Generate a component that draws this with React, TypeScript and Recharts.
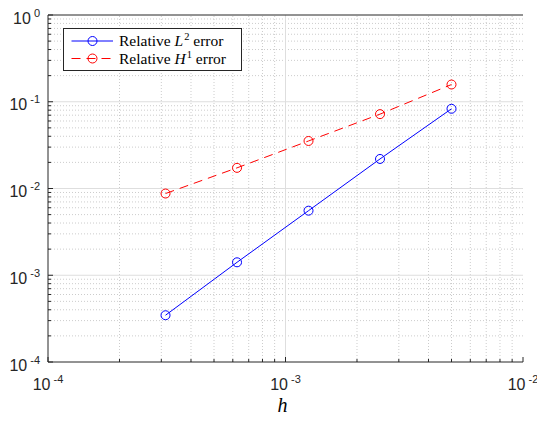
import React from 'react';
import {
  LineChart,
  Line,
  XAxis,
  YAxis,
  ReferenceLine,
  Legend,
  Label,
} from 'recharts';

// mesh size and relative errors
const H = [3.125e-4, 6.25e-4, 1.25e-3, 2.5e-3, 5e-3];
const L2_ERR = [3.46e-4, 1.41e-3, 5.55e-3, 2.19e-2, 8.3e-2];
const H1_ERR = [8.75e-3, 1.73e-2, 3.53e-2, 7.2e-2, 1.58e-1];

const X_DECADES = [1e-4, 1e-3, 1e-2];
const Y_DECADES = [1e-4, 1e-3, 1e-2, 1e-1, 1];

const MULT = [2, 3, 4, 5, 6, 7, 8, 9];

function minorsOf(decades: number[]): number[] {
  const out: number[] = [];
  for (const d of decades.slice(0, -1)) {
    for (const m of MULT) out.push(m * d);
  }
  return out;
}

const X_MINOR = minorsOf(X_DECADES);
const Y_MINOR = minorsOf(Y_DECADES);
const X_TICKS = [...X_DECADES, ...X_MINOR].sort((a, b) => a - b);
const Y_TICKS = [...Y_DECADES, ...Y_MINOR].sort((a, b) => a - b);

const data = H.map((h, i) => ({ h, l2: L2_ERR[i], h1: H1_ERR[i] }));

const SERIES_ORDER = ['l2', 'h1'];
const LEGEND_LABELS: Record<string, { sym: string; sup: string }> = {
  l2: { sym: 'L', sup: '2' },
  h1: { sym: 'H', sup: '1' },
};

const TICK_FONT = '"Liberation Sans", Arial, sans-serif';
const SERIF = '"Liberation Serif", "Times New Roman", serif';

function isDecade(v: number) {
  const l = Math.log10(v);
  return Math.abs(l - Math.round(l)) < 1e-9;
}

function PowLabel({ x, y, v, anchor }: { x: number; y: number; v: number; anchor: 'middle' | 'end' }) {
  return (
    <text x={x} y={y} textAnchor={anchor} style={{ fontFamily: TICK_FONT, fontSize: 16 }} fill="#262626">
      10
      <tspan dx={3} dy={-7} style={{ fontSize: 11 }}>
        {String(Math.round(Math.log10(v)))}
      </tspan>
    </text>
  );
}

function BottomTick(props: any) {
  const { x, y, payload } = props;
  const major = isDecade(payload.value);
  return (
    <g>
      <line x1={x} x2={x} y1={y} y2={y - (major ? 5 : 3)} stroke="#262626" />
      {major && <PowLabel x={x} y={y + 28} v={payload.value} anchor="middle" />}
    </g>
  );
}

function TopTick(props: any) {
  const { x, y, payload } = props;
  const major = isDecade(payload.value);
  return <line x1={x} x2={x} y1={y} y2={y + (major ? 5 : 3)} stroke="#262626" />;
}

function LeftTick(props: any) {
  const { x, y, payload } = props;
  const major = isDecade(payload.value);
  return (
    <g>
      <line x1={x} x2={x + (major ? 5 : 3)} y1={y} y2={y} stroke="#262626" />
      {major && <PowLabel x={x - 8} y={y + 8.5} v={payload.value} anchor="end" />}
    </g>
  );
}

function RightTick(props: any) {
  const { x, y, payload } = props;
  const major = isDecade(payload.value);
  return <line x1={x} x2={x - (major ? 5 : 3)} y1={y} y2={y} stroke="#262626" />;
}

function renderLegend(props: any) {
  const items = ((props.payload || []) as any[])
    .slice()
    .sort((a, b) => SERIES_ORDER.indexOf(String(a.dataKey)) - SERIES_ORDER.indexOf(String(b.dataKey)));
  return (
    <svg width={180} height={44} style={{ display: 'block' }}>
      <rect x={0.5} y={0.5} width={178} height={42} fill="#fff" stroke="#262626" />
      {items.map((it, i) => {
        const cy = 13 + i * 17.5;
        const lab = LEGEND_LABELS[String(it.dataKey)];
        const dash = it.payload?.strokeDasharray;
        return (
          <g key={String(it.dataKey)}>
            <line x1={8.5} x2={50} y1={cy} y2={cy} stroke={it.color} strokeDasharray={dash} />
            <circle cx={29.5} cy={cy} r={4.5} fill="none" stroke={it.color} />
            <text x={56} y={cy + 5} style={{ fontFamily: SERIF, fontSize: 15.5 }} fill="#000">
              Relative{' '}
              <tspan style={{ fontStyle: 'italic' }}>{lab.sym}</tspan>
              <tspan dx={1} dy={-6} style={{ fontSize: 10.5 }}>
                {lab.sup}
              </tspan>
              <tspan dy={6}> error</tspan>
            </text>
          </g>
        );
      })}
    </svg>
  );
}

export default function App() {
  return (
    <div style={{ width: 537, height: 413 }}>
      <LineChart width={537} height={413} data={data} margin={{ top: 0, right: 22, bottom: 0, left: 0 }}>
        <XAxis
          dataKey="h"
          type="number"
          scale="log"
          domain={[1e-4, 1e-2]}
          allowDataOverflow
          ticks={X_TICKS}
          interval={0}
          tick={(p: any) => <BottomTick {...p} />}
          tickLine={false}
          tickSize={0}
          tickMargin={0}
          height={59}
          axisLine={{ stroke: '#262626' }}
        >
          <Label
            content={(p: any) => {
              const vb = p.viewBox;
              return (
                <text
                  x={vb.x + vb.width / 2 - 3}
                  y={vb.y + 50}
                  textAnchor="middle"
                  style={{ fontFamily: SERIF, fontStyle: 'italic', fontSize: 20 }}
                  fill="#000"
                >
                  h
                </text>
              );
            }}
          />
        </XAxis>
        <XAxis
          xAxisId="top"
          orientation="top"
          type="number"
          scale="log"
          domain={[1e-4, 1e-2]}
          allowDataOverflow
          ticks={X_TICKS}
          interval={0}
          tick={(p: any) => <TopTick {...p} />}
          tickLine={false}
          tickSize={0}
          tickMargin={0}
          height={7}
          axisLine={{ stroke: '#262626' }}
        />
        <YAxis
          type="number"
          scale="log"
          domain={[1e-4, 1]}
          allowDataOverflow
          ticks={Y_TICKS}
          interval={0}
          tick={(p: any) => <LeftTick {...p} />}
          tickLine={false}
          tickSize={0}
          tickMargin={0}
          width={40}
          axisLine={{ stroke: '#262626' }}
        />
        <YAxis
          yAxisId="right"
          orientation="right"
          type="number"
          scale="log"
          domain={[1e-4, 1]}
          allowDataOverflow
          ticks={Y_TICKS}
          interval={0}
          tick={(p: any) => <RightTick {...p} />}
          tickLine={false}
          tickSize={0}
          tickMargin={0}
          width={0}
          axisLine={{ stroke: '#262626' }}
        />

        {/* minor grid, dotted */}
        {X_MINOR.map((v) => (
          <ReferenceLine key={'xm' + v} x={v} stroke="#cccccc" strokeDasharray="1 2" />
        ))}
        {Y_MINOR.map((v) => (
          <ReferenceLine key={'ym' + v} y={v} stroke="#cccccc" strokeDasharray="1 2" />
        ))}
        {/* major grid */}
        {X_DECADES.slice(1, -1).map((v) => (
          <ReferenceLine key={'xM' + v} x={v} stroke="#dedede" />
        ))}
        {Y_DECADES.slice(1, -1).map((v) => (
          <ReferenceLine key={'yM' + v} y={v} stroke="#dedede" />
        ))}

        <Line
          dataKey="l2"
          name="Relative L2 error"
          type="linear"
          stroke="#0000ff"
          strokeWidth={1}
          dot={{ r: 4.5, fill: 'none', strokeWidth: 1, strokeDasharray: '0' }}
          isAnimationActive={false}
        />
        <Line
          dataKey="h1"
          name="Relative H1 error"
          type="linear"
          stroke="#ff0000"
          strokeWidth={1}
          strokeDasharray="9 6"
          dot={{ r: 4.5, fill: 'none', strokeWidth: 1, strokeDasharray: '0' }}
          isAnimationActive={false}
        />
        <Legend
          layout="vertical"
          align="center"
          verticalAlign="middle"
          content={renderLegend}
          wrapperStyle={{ top: 20, left: 55, width: 180, height: 44 }}
        />
      </LineChart>
    </div>
  );
}
